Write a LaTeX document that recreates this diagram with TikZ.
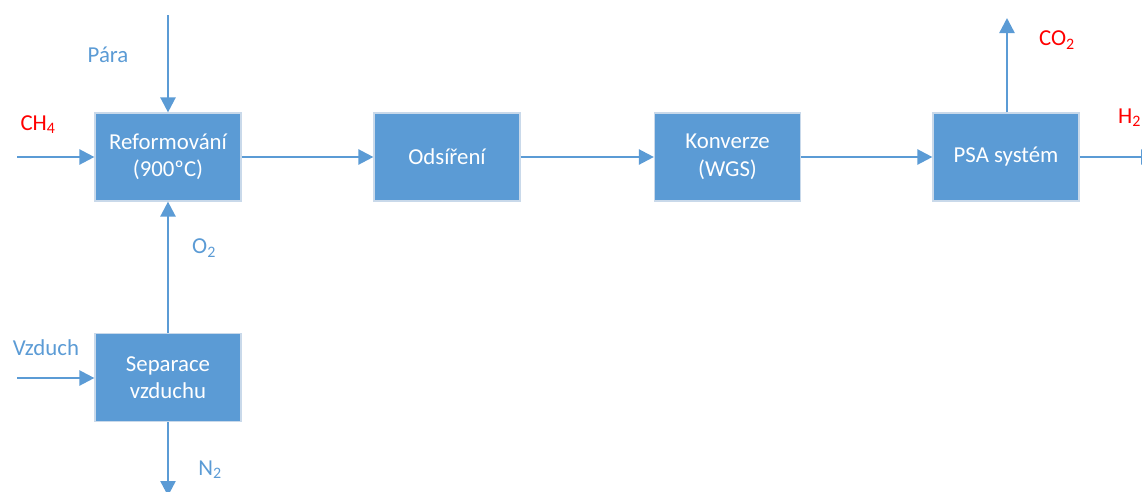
\documentclass[tikz,border=0pt]{standalone}
\usepackage{fontspec}
\setmainfont{Carlito}
\usetikzlibrary{arrows.meta}
\definecolor{flowblue}{HTML}{5B9BD5}
\definecolor{boxedge}{HTML}{C9D9EA}
\definecolor{hotred}{HTML}{FF0000}
\begin{document}
\begin{tikzpicture}[x=1pt,y=-1pt,
  unitbox/.style={draw=boxedge,line width=1.2pt,fill=flowblue,text=white,
    minimum width=146pt,minimum height=88pt,inner sep=0pt,align=center,
    font=\fontsize{22.8}{27.5}\selectfont},
  flow/.style={draw=flowblue,line width=2.4pt,-{Triangle[length=15pt,width=15pt]}},
  stream/.style={text=flowblue,font=\fontsize{22.8}{27}\selectfont,inner sep=0pt},
  product/.style={stream,text=hotred}]
\useasboundingbox (0,0) rectangle (1142,491);
% process units
\node[unitbox] (reform) at (168,157) {Reformování\\(900ºC)};
\node[unitbox] (desulf) at (447,157) {Odsíření};
\node[unitbox] (wgs) at (727.5,157) {Konverze\\(WGS)};
\node[unitbox] (psa) at (1006,157) {PSA systém};
\node[unitbox] (asu) at (168,377.5) {Separace\\vzduchu};
% free stream ends
\coordinate (steamin) at (168,15);
\coordinate (ch4in) at (17,157);
\coordinate (airin) at (17,378);
\coordinate (n2out) at (168,496);
\coordinate (co2out) at (1007,18);
\coordinate (h2out) at (1156,157);
% connectors
\draw[flow] (steamin) -- (reform.north);
\draw[flow] (ch4in) -- (reform.west);
\draw[flow] (reform.east) -- (desulf.west);
\draw[flow] (desulf.east) -- (wgs.west);
\draw[flow] (wgs.east) -- (psa.west);
\draw[flow] (psa.north -| co2out) -- (co2out);
\draw[flow] (psa.east) -- (h2out);
\draw[flow] (asu.north) -- (reform.south);
\draw[flow] (airin) -- (airin -| asu.west);
\draw[flow] (asu.south) -- (n2out);
% stream labels
\node[stream] (lsteam) at (108,55) {Pára};
\node[product] (lch4) at (38,125) {CH\textsubscript{4}};
\node[stream] (lo2) at (204,248) {O\textsubscript{2}};
\node[stream] (lair) at (46,348) {Vzduch};
\node[stream] (ln2) at (210,470) {N\textsubscript{2}};
\node[product] (lco2) at (1057,40) {CO\textsubscript{2}};
\node[product,anchor=west] (lh2) at (1118,118) {H\textsubscript{2}};
\end{tikzpicture}
\end{document}
